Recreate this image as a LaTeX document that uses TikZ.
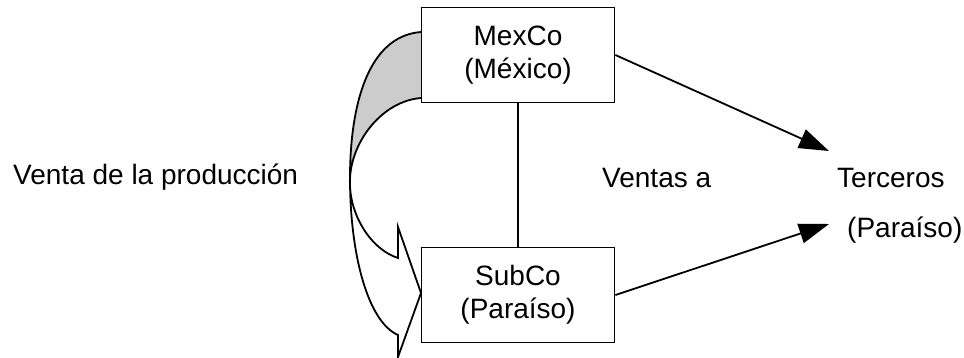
\documentclass[tikz,border=0pt]{standalone}
\usepackage{fontspec}
\setmainfont{Liberation Sans}
\usetikzlibrary{arrows.meta}
\begin{document}
\begin{tikzpicture}[x=1pt,y=-1pt,
  every node/.style={font=\fontsize{28}{33}\selectfont, inner sep=0pt},
  entity/.style={draw, line width=1.8pt, minimum width=193pt, minimum height=95pt, align=center},
  conn/.style={line width=1.8pt},
  sale/.style={conn, -{Triangle[length=30pt,width=20pt]}},
  lbl/.style={anchor=base west}]
\useasboundingbox (0,0) rectangle (964,358);
% curved arrow (drawn directly)
\fill[gray!40] (421,32) .. controls (368,36) and (350,105) .. (350,178)
   .. controls (352,140) and (383,101) .. (421,98) -- cycle;
\draw[conn, line join=miter] (421,32) .. controls (368,36) and (350,105) .. (350,178)
   .. controls (350,255) and (368,322) .. (398,335)
   -- (398,357) -- (421,293) -- (398,227) -- (398,258)
   .. controls (372,250) and (348,215) .. (350,178)
   .. controls (352,140) and (383,101) .. (421,98);
\node[entity, fill=white] (mex) at (518,55) {MexCo\\(México)};
\node[entity, fill=white] (sub) at (518,295) {SubCo\\(Paraíso)};
\coordinate (t1) at (829,151);
\coordinate (t2) at (829,224);
\draw[conn] (mex.south) -- (sub.north);
\draw[sale] (mex.east) -- (t1);
\draw[sale] (sub.east) -- (t2);
\node[lbl] (venta) at (13,185) {Venta de la producción};
\node[lbl] (ventas) at (602,188) {Ventas a};
\node[lbl] (terc) at (837,188) {Terceros};
\node[lbl] (par) at (847,238) {(Paraíso)};
\end{tikzpicture}
\end{document}
